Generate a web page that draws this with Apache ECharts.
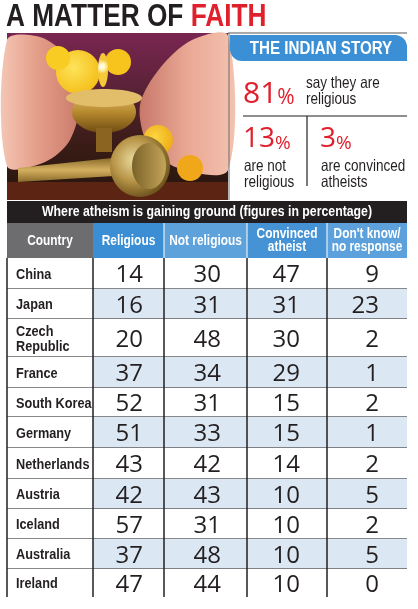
<!DOCTYPE html>
<html><head><meta charset="utf-8">
<script src="https://cdn.jsdelivr.net/npm/echarts@6/dist/echarts.min.js"></script>
<style>html,body{margin:0;padding:0;background:#fff}#c{width:418px;height:609px}</style>
</head><body><div id="c"></div>
<script>
// ---- data ----
const titleMain = 'A MATTER OF';
const titleAccent = 'FAITH';
const panelTitle = 'THE INDIAN STORY';
const indiaPercent = [81, 13, 3];
const indiaLabels = ['say they are\nreligious', 'are not\nreligious', 'are convinced\natheists'];
const tableTitle = 'Where atheism is gaining ground (figures in percentage)';
const columns = ['Country', 'Religious', 'Not religious', 'Convinced\natheist', "Don't know/\nno response"];
const countries = ['China', 'Japan', 'Czech\nRepublic', 'France', 'South Korea', 'Germany', 'Netherlands', 'Austria', 'Iceland', 'Australia', 'Ireland'];
const religious = [14, 16, 20, 37, 52, 51, 43, 42, 57, 37, 47];
const notReligious = [30, 31, 48, 34, 31, 33, 42, 43, 31, 48, 44];
const convincedAtheist = [47, 31, 30, 29, 15, 15, 14, 10, 10, 10, 10];
const dontKnow = [9, 23, 2, 1, 2, 1, 2, 5, 2, 5, 0];

// ---- layout / style ----
const SANS = '"Liberation Sans", Arial, sans-serif';
const SQUEEZE = 0.82;
const NUMFONT = '"Open Sans", "Liberation Sans", sans-serif';
const INK = '#231f20';
const RED = '#e0202c';
const COL_EDGES = [0, 86, 157, 240, 320, 400];
const NUM_RIGHT_PAD = [0, 21, 26, 27, 28];
const ROW_HEIGHTS = [35, 31, 30, 38, 31, 29, 31, 31, 30, 30, 30, 28];
const ROW_TOPS = [0];
ROW_HEIGHTS.forEach((h, i) => ROW_TOPS.push(ROW_TOPS[i] + h));
const HEADER_COLORS = ['#6d6d6f', '#3b8ed3', '#5ea2dc', '#4592d4', '#5ca1db'];
const tableCols = [countries, religious, notReligious, convincedAtheist, dontKnow];

// condensed text: horizontally squeezed around its anchor
function ntext(x, y, style) {
  return {type: 'text', x: x, y: y, scaleX: SQUEEZE, style: Object.assign({x: 0, y: 0, fontFamily: SANS}, style)};
}

const cells = [];
columns.forEach((_, c) => cells.push([c, 0]));
countries.forEach((_, r) => columns.forEach((_, c) => cells.push([c, r + 1])));

function renderCell(params, api) {
  const c = api.value(0), r = api.value(1);
  const p0 = api.coord([COL_EDGES[c], ROW_TOPS[r]]);
  const p1 = api.coord([COL_EDGES[c + 1], ROW_TOPS[r + 1]]);
  const x0 = p0[0], y0 = p0[1], w = p1[0] - p0[0], h = p1[1] - p0[1];
  const ch = [];
  if (r === 0) {
    ch.push({type: 'rect', shape: {x: x0, y: y0, width: w, height: h}, style: {fill: HEADER_COLORS[c]}});
    if (c >= 2) ch.push({type: 'line', shape: {x1: x0, y1: y0, x2: x0, y2: y0 + h}, style: {stroke: '#ffffff', lineWidth: 1}});
    ch.push(ntext(x0 + w / 2, y0 + h / 2, {text: columns[c], align: 'center', verticalAlign: 'middle',
      fontWeight: 'bold', fontSize: 14.5, lineHeight: 13.5, fill: '#ffffff'}));
  } else {
    const shaded = (r - 1) % 2 === 1 && c > 0;
    ch.push({type: 'rect', shape: {x: x0, y: y0, width: w, height: h}, style: {fill: shaded ? '#dce7f4' : '#ffffff'}});
    if (r < ROW_HEIGHTS.length - 1) ch.push({type: 'line', shape: {x1: x0, y1: y0 + h, x2: x0 + w, y2: y0 + h}, style: {stroke: '#5f6062', lineWidth: 1.3}});
    ch.push({type: 'line', shape: {x1: x0, y1: y0, x2: x0, y2: y0 + h}, style: {stroke: INK, lineWidth: 1.5}});
    const val = tableCols[c][r - 1];
    if (c === 0) {
      ch.push(ntext(x0 + 9, y0 + h / 2 + 1, {text: val, align: 'left', verticalAlign: 'middle',
        fontWeight: 'bold', fontSize: 15.5, lineHeight: 15, fill: INK}));
    } else {
      ch.push({type: 'text', style: {text: String(val), x: x0 + w - NUM_RIGHT_PAD[c], y: y0 + h / 2 + 2, align: 'right', verticalAlign: 'middle',
        fontFamily: NUMFONT, fontSize: 24, fill: INK}});
    }
  }
  return {type: 'group', children: ch};
}

function pct(v, size, pSize) {
  return {
    text: '{n|' + v + '}{p|%}',
    verticalAlign: 'top',
    rich: {
      n: {fontFamily: NUMFONT, fontSize: size, lineHeight: 34, verticalAlign: 'bottom', fill: RED},
      p: {fontFamily: NUMFONT, fontSize: pSize, lineHeight: 34, verticalAlign: 'bottom', fill: RED}
    }
  };
}
function lin(stops, x2, y2) {
  return {type: 'linear', x: 0, y: 0, x2: x2, y2: y2, colorStops: stops.map((c, i) => ({offset: i / (stops.length - 1), color: c}))};
}
function rad(stops) {
  return {type: 'radial', x: 0.4, y: 0.4, r: 0.7, colorStops: stops.map((c, i) => ({offset: i / (stops.length - 1), color: c}))};
}

const photo = {
  type: 'group', children: [
    {type: 'rect', shape: {x: 7, y: 33, width: 221, height: 167}, style: {fill: lin(['#7a2652', '#5a2236', '#3a1c16', '#25150e'], 0, 1)}},
    {type: 'rect', shape: {x: 7, y: 182, width: 221, height: 18}, style: {fill: '#5c2412'}},
    {type: 'polygon', shape: {points: [[7, 40], [40, 37], [68, 58], [80, 100], [70, 140], [45, 162], [7, 166]], smooth: 0.3}, style: {fill: lin(['#f4c6b4', '#e39b86', '#c97a6a'], 1, 0)}},
    {type: 'polygon', shape: {points: [[228, 36], [192, 40], [160, 68], [140, 105], [148, 145], [178, 168], [228, 170]], smooth: 0.3}, style: {fill: lin(['#c7786a', '#eaa894', '#f3c2b0'], 1, 0)}},
    {type: 'circle', shape: {cx: 78, cy: 72, r: 22}, style: {fill: rad(['#fde35a', '#f4bb12'])}},
    {type: 'circle', shape: {cx: 58, cy: 58, r: 12}, style: {fill: '#f8cc22'}},
    {type: 'circle', shape: {cx: 118, cy: 62, r: 13}, style: {fill: '#f6c41c'}},
    {type: 'circle', shape: {cx: 158, cy: 140, r: 15}, style: {fill: rad(['#fbd640', '#eea714'])}},
    {type: 'circle', shape: {cx: 190, cy: 168, r: 13}, style: {fill: '#f0a81a'}},
    {type: 'ellipse', shape: {cx: 103, cy: 70, rx: 5, ry: 17}, style: {fill: rad(['#ffffff', '#fff3b0', '#f5c73a'])}},
    {type: 'ellipse', shape: {cx: 104, cy: 112, rx: 32, ry: 21}, style: {fill: lin(['#e6c275', '#b78a2e', '#6e4a12'], 0, 1)}},
    {type: 'ellipse', shape: {cx: 104, cy: 98, rx: 38, ry: 9}, style: {fill: '#e2bd6a'}},
    {type: 'rect', shape: {x: 96, y: 128, width: 16, height: 24}, style: {fill: '#8a6420'}},
    {type: 'polygon', shape: {points: [[18, 168], [112, 158], [114, 176], [18, 182]]}, style: {fill: lin(['#8a6a2a', '#d4b060', '#8a6a2a'], 0, 1)}},
    {type: 'ellipse', shape: {cx: 140, cy: 166, rx: 30, ry: 31}, style: {fill: rad(['#eadba0', '#b89548', '#5e4614'])}},
    {type: 'ellipse', shape: {cx: 149, cy: 166, rx: 17, ry: 23}, style: {fill: lin(['#7a6228', '#c4a45a'], 1, 0)}}
  ]
};

const chart = echarts.init(document.getElementById('c'), null, {renderer: 'canvas'});
chart.setOption({
  animation: false,
  backgroundColor: '#ffffff',
  grid: {left: 7, top: 223, width: 400, height: ROW_TOPS[ROW_TOPS.length - 1]},
  xAxis: {type: 'value', min: 0, max: COL_EDGES[COL_EDGES.length - 1], show: false},
  yAxis: {type: 'value', min: 0, max: ROW_TOPS[ROW_TOPS.length - 1], inverse: true, show: false},
  series: [{type: 'custom', data: cells, renderItem: renderCell, clip: false, silent: true, encode: {x: 0, y: 1}}],
  graphic: [
    ntext(6, 17, {text: '{a|' + titleMain + '} {b|' + titleAccent + '}', verticalAlign: 'middle',
      rich: {a: {fontFamily: SANS, fontWeight: 'bold', fontSize: 32, fill: INK}, b: {fontFamily: SANS, fontWeight: 'bold', fontSize: 32, fill: RED}},
      fontWeight: 'bold', fontSize: 32}),
    photo,
    {type: 'line', shape: {x1: 228, y1: 33, x2: 407, y2: 33}, style: {stroke: '#8c8c8c', lineWidth: 1.5}},
    {type: 'line', shape: {x1: 229, y1: 33, x2: 229, y2: 200}, style: {stroke: '#6a6a6a', lineWidth: 1}},
    {type: 'rect', shape: {x: 230, y: 35, width: 177, height: 26, r: [0, 12, 0, 12]}, style: {fill: '#3b8fd4'}},
    ntext(321, 49, {text: panelTitle, align: 'center', verticalAlign: 'middle', fontWeight: 'bold', fontSize: 18.5, fill: '#ffffff'}),
    {type: 'text', x: 243, y: 75, style: pct(indiaPercent[0], 30, 21)},
    ntext(306, 75, {text: indiaLabels[0], verticalAlign: 'top', fontSize: 16.5, lineHeight: 16, fill: INK}),
    {type: 'line', shape: {x1: 243, y1: 116, x2: 407, y2: 116}, style: {stroke: INK, lineWidth: 1.2}},
    {type: 'line', shape: {x1: 307, y1: 116, x2: 307, y2: 186}, style: {stroke: INK, lineWidth: 1.2}},
    {type: 'text', x: 243, y: 119, style: pct(indiaPercent[1], 28, 19)},
    ntext(244, 158, {text: indiaLabels[1], verticalAlign: 'top', fontSize: 16.5, lineHeight: 16, fill: INK}),
    {type: 'text', x: 320, y: 119, style: pct(indiaPercent[2], 28, 19)},
    ntext(321, 158, {text: indiaLabels[2], verticalAlign: 'top', fontSize: 16.5, lineHeight: 16, fill: INK}),
    {type: 'rect', shape: {x: 7, y: 201, width: 400, height: 22}, style: {fill: INK}},
    ntext(207, 212, {text: tableTitle, align: 'center', verticalAlign: 'middle', fontWeight: 'bold', fontSize: 15, fill: '#ffffff'})
  ]
});
</script>
</body></html>
